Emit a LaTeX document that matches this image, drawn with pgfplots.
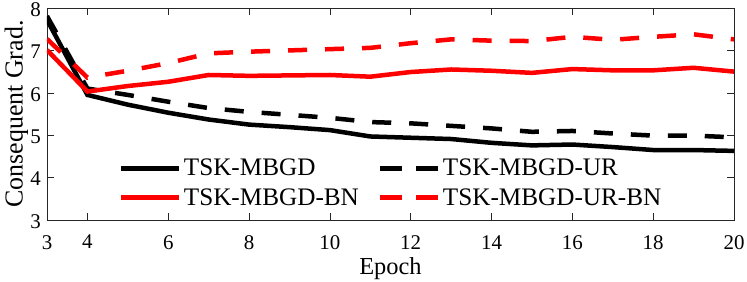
\documentclass[border=0pt]{standalone}
\usepackage{fontspec}
\setmainfont{Liberation Serif}
\usepackage{pgfplots}
\pgfplotsset{compat=1.18}
\usetikzlibrary{calc}
\definecolor{axgray}{rgb}{0.15,0.15,0.15}
\newcommand{\tickfont}{\fontsize{21}{25}\selectfont}
\newcommand{\labfont}{\fontsize{24.5}{28}\selectfont}
\newcommand{\legfont}{\fontsize{25.3}{29}\selectfont}
\newcommand{\ylabfont}{\fontsize{26}{30}\selectfont}
\begin{document}
\begin{tikzpicture}
\begin{axis}[name=ax, scale only axis, width=687bp, height=212bp,
  xmin=3, xmax=20, ymin=3, ymax=8,
  xtick={3,4,6,8,10,12,14,16,18,20}, ytick={3,4,5,6,7,8},
  tick align=inside, major tick length=7bp,
  axis line style={axgray, line width=0.6bp}, every tick/.style={axgray, line width=0.6bp},
  /pgf/number format/assume math mode=true,
  xticklabel style={font=\tickfont, inner sep=2bp, yshift=-13bp},
  yticklabel style={font=\tickfont, inner sep=2bp, xshift=-4bp, yshift=-1.5bp},
  xlabel style={font=\labfont, inner sep=0pt, at={(axis description cs:0.5,0)}, anchor=north, yshift=-37bp},
  ylabel style={font=\ylabfont, inner sep=0pt},
  xlabel={Epoch}, ylabel={Consequent Grad.},
  legend columns=2,
  legend cell align=left,
  legend style={draw=none, fill=none, font=\legfont, at={(rel axis cs:0.1,0.175)}, anchor=west,
    row sep=7bp, /tikz/every even column/.append style={column sep=17bp}},
]
\addplot[black, line width=4.5bp, legend image code/.code={\draw[black, line width=5bp] (0bp,0bp)--(58bp,0bp);}] coordinates {
(3,7.72)(4,5.95)(5,5.72)(6,5.53)(7,5.37)(8,5.25)(9,5.19)(10,5.12)(11,4.97)(12,4.94)(13,4.91)(14,4.82)(15,4.76)(16,4.78)(17,4.72)(18,4.65)(19,4.65)(20,4.63)};
\addlegendentry{TSK-MBGD}
\addplot[black, line width=4.5bp, dash pattern=on 19bp off 18bp, legend image code/.code={\draw[black, line width=5bp, dash pattern=on 22bp off 14bp] (0bp,0bp)--(58bp,0bp);}] coordinates {
(3,7.81)(4,6.1)(5,5.95)(6,5.79)(7,5.64)(8,5.55)(9,5.48)(10,5.41)(11,5.31)(12,5.28)(13,5.22)(14,5.16)(15,5.08)(16,5.1)(17,5.04)(18,4.99)(19,4.99)(20,4.95)};
\addlegendentry{TSK-MBGD-UR}
\addplot[red, line width=4.5bp, legend image code/.code={\draw[red, line width=5bp] (0bp,0bp)--(58bp,0bp);}] coordinates {
(3,7.01)(4,6.03)(5,6.16)(6,6.26)(7,6.42)(8,6.40)(9,6.41)(10,6.42)(11,6.38)(12,6.49)(13,6.55)(14,6.52)(15,6.47)(16,6.56)(17,6.53)(18,6.53)(19,6.59)(20,6.5)};
\addlegendentry{TSK-MBGD-BN}
\addplot[red, line width=4.5bp, dash pattern=on 19bp off 18bp, legend image code/.code={\draw[red, line width=5bp, dash pattern=on 22bp off 14bp] (0bp,0bp)--(58bp,0bp);}] coordinates {
(3,7.27)(4,6.36)(5,6.52)(6,6.7)(7,6.93)(8,6.97)(9,7.0)(10,7.03)(11,7.06)(12,7.17)(13,7.26)(14,7.23)(15,7.22)(16,7.32)(17,7.25)(18,7.32)(19,7.38)(20,7.26)};
\addlegendentry{TSK-MBGD-UR-BN}
\end{axis}
\pgfresetboundingbox
\path ($(ax.south west)+(-47bp,-62bp)$) rectangle ($(ax.north east)+(13bp,8bp)$);
\end{tikzpicture}
\end{document}
